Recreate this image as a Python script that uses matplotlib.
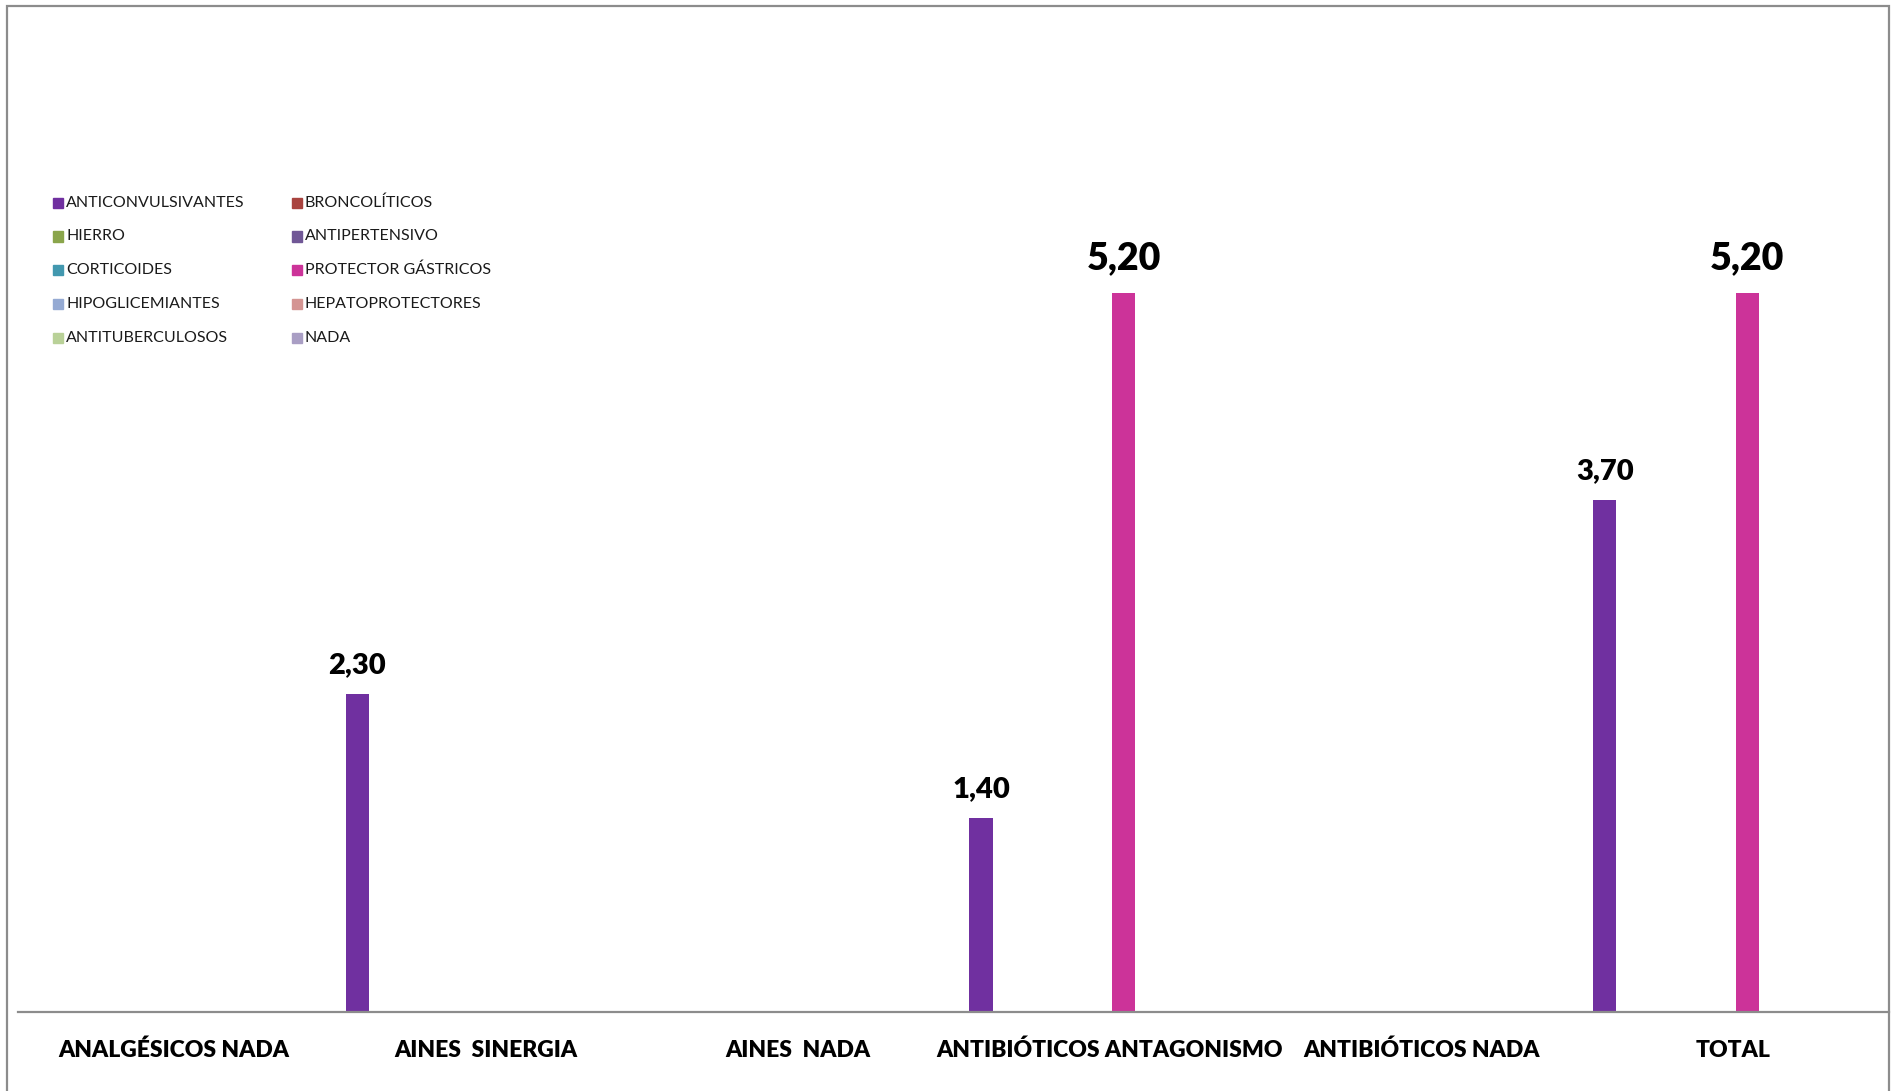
import matplotlib
matplotlib.use("Agg")
import matplotlib.pyplot as plt
from matplotlib.patches import Rectangle
import numpy as np

plt.rcParams['font.family'] = ['Lato', 'DejaVu Sans']

categories = ["ANALGÉSICOS NADA", "AINES  SINERGIA", "AINES  NADA",
              "ANTIBIÓTICOS ANTAGONISMO", "ANTIBIÓTICOS NADA", "TOTAL"]

series_names = ["ANTICONVULSIVANTES", "BRONCOLÍTICOS", "HIERRO", "ANTIPERTENSIVO",
                "CORTICOIDES", "PROTECTOR GÁSTRICOS", "HIPOGLICEMIANTES",
                "HEPATOPROTECTORES", "ANTITUBERCULOSOS", "NADA"]

series_colors = ["#7030A0", "#A9433F", "#8AA54B", "#705796", "#4298AF",
                 "#CC3399", "#95AAD3", "#D49492", "#B9D198", "#A99EC4"]

anticonvulsivantes = [0, 2.30, 0, 1.40, 0, 3.70]
broncoliticos = [0, 0, 0, 0, 0, 0]
hierro = [0, 0, 0, 0, 0, 0]
antipertensivo = [0, 0, 0, 0, 0, 0]
corticoides = [0, 0, 0, 0, 0, 0]
protector_gastricos = [0, 0, 0, 5.20, 0, 5.20]
hipoglicemiantes = [0, 0, 0, 0, 0, 0]
hepatoprotectores = [0, 0, 0, 0, 0, 0]
antituberculosos = [0, 0, 0, 0, 0, 0]
nada = [0, 0, 0, 0, 0, 0]

series_values = [anticonvulsivantes, broncoliticos, hierro, antipertensivo,
                 corticoides, protector_gastricos, hipoglicemiantes,
                 hepatoprotectores, antituberculosos, nada]

W, H = 1892, 1091
fig = plt.figure(figsize=(W / 100, H / 100), dpi=100)

# plot area in pixel terms
left_px, right_px = 18, 1889
base_px = 1012
ymax = 7.0
px_per_unit = 138.3
top_px = base_px - ymax * px_per_unit
ax = fig.add_axes([left_px / W, (H - base_px) / H,
                   (right_px - left_px) / W, (base_px - top_px) / H])

n_ser = len(series_names)
slot = 0.0915
bar_w = slot * 0.81
x = np.arange(len(categories))

for i, (name, vals, col) in enumerate(zip(series_names, series_values, series_colors)):
    off = (i - (n_ser - 1) / 2) * slot
    bars = ax.bar(x + off, vals, width=bar_w, color=col, label=name, zorder=2)
    for b, v in zip(bars, vals):
        if v > 0:
            big = v >= 5
            ax.annotate(f"{v:.2f}".replace('.', ','),
                        (b.get_x() + b.get_width() / 2, v),
                        xytext=(0, 35 if big else 29), textcoords='offset pixels',
                        ha='center', va='center', fontweight='heavy',
                        fontsize=27 if big else 21, color='black')

ax.set_xlim(-0.5, len(categories) - 0.5)
ax.set_ylim(0, ymax)
for s in ['top', 'right', 'left']:
    ax.spines[s].set_visible(False)
ax.spines['bottom'].set_color('#8C8C8C')
ax.spines['bottom'].set_linewidth(1.6)
ax.set_yticks([])
ax.set_xticks(x)
ax.set_xticklabels(categories, fontweight='heavy', fontsize=16.5)
ax.tick_params(axis='x', length=0, pad=20)

# legend laid out row-wise in two columns
leg_rows = [203, 236.5, 270, 304, 338]
leg_cols = [(53, 66), (292, 305)]
for i, (name, col) in enumerate(zip(series_names, series_colors)):
    r, c = divmod(i, 2)
    mx, tx = leg_cols[c]
    y = leg_rows[r]
    fig.patches.append(Rectangle((mx / W, (H - y - 5) / H), 10 / W, 10 / H,
                                 transform=fig.transFigure, color=col))
    fig.text(tx / W, (H - y) / H, name, fontsize=11.5, va='center', ha='left',
             color='#1a1a1a')

# outer border of the chart area
fig.patches.append(Rectangle((7 / W, -0.01), (1889 - 7) / W, (H - 6) / H + 0.01,
                             transform=fig.transFigure, fill=False,
                             edgecolor='#8C8C8C', linewidth=1.6))

fig.savefig("out.png", dpi=100, facecolor='white')
